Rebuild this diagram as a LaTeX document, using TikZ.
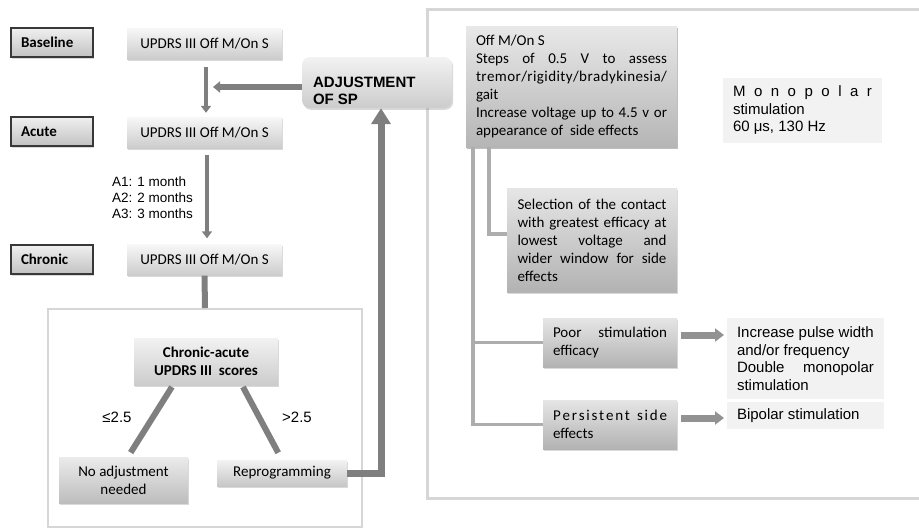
\documentclass[tikz,border=0pt]{standalone}
\usepackage{fontspec}
\setmainfont{Carlito}
\newfontfamily\arialf{Liberation Sans}
\usetikzlibrary{arrows.meta,shadows}
\definecolor{ag}{HTML}{7F7F7F}
\definecolor{lg}{HTML}{ADADAD}
\definecolor{fr}{HTML}{D6D6D6}
\newcommand\fA{\fontsize{15}{18}\selectfont}
\newcommand\fC{\arialf\fontsize{15}{17.5}\selectfont}
\newcommand\fD{\arialf\fontsize{13.5}{16}\selectfont}
\newcommand\fE{\arialf\bfseries\fontsize{15}{17}\selectfont}
\newcommand\ns{\spaceskip=0pt\xspaceskip=0pt\relax}
\newcommand\jl[2]{\makebox[#1][s]{\spaceskip=0.22em plus 1fil\relax #2}}
\tikzset{
  sh/.style={drop shadow={shadow xshift=1.2pt,shadow yshift=-1.8pt,opacity=0.3,fill=black!50}},
  gb/.style 2 args={top color=#1,bottom color=#2,draw=none,sh,inner sep=0pt},
  lab/.style={gb={black!6}{black!24},draw=black!78,line width=1.5pt,minimum width=82pt,minimum height=29pt,text width=62pt,align=left,font=\fA\bfseries},
  updrs/.style={gb={black!3}{black!20},minimum width=155pt,minimum height=31pt,font=\fA},
  rbox/.style={gb={black!10}{black!30},align=left,font=\fA},
  lbox/.style={fill=black!5,draw=none,inner sep=0pt,align=left,font=\fC},
  varr/.style={draw=ag,line width=4.5pt,-{Triangle[width=10pt,length=7pt]}},
  harr/.style={draw=ag,line width=6pt,-{Triangle[width=11pt,length=7pt]}},
  uparr/.style={draw=ag,line width=7pt,-{Triangle[width=19pt,length=16pt]}},
  tl/.style={draw=ag,line width=6pt},
  rline/.style={draw=lg,line width=3.5pt},
  barr/.style={draw=ag!85,line width=7pt,-{Triangle[width=13pt,length=9pt]}},
  frline/.style={draw=fr,line width=3pt}
}
\begin{document}
\begin{tikzpicture}[x=1pt,y=-1pt]
\useasboundingbox (0,0) rectangle (919,528);

% right frame
\draw[frline] (921,9) -- (427,9) -- (427,498) -- (921,498);

% left column
\node[lab] (bl) at (52,42.5) {Baseline};
\node[lab] (ac) at (52,131.5) {Acute};
\node[lab] (ch) at (52,259.5) {Chronic};
\node[updrs] (u1) at (204.5,43.5) {UPDRS III Off M/On S};
\node[updrs] (u2) at (204.5,132.5) {UPDRS III Off M/On S};
\node[updrs] (u3) at (204.5,260) {UPDRS III Off M/On S};

\draw[varr,shorten <=8pt,shorten >=4pt] ([xshift=1.5pt]u1.south) -- ([xshift=1.5pt]u2.north);
\draw[varr,shorten <=7pt,shorten >=6pt] ([xshift=2.5pt]u2.south) -- ([xshift=2.5pt]u3.north);
\node[font=\fD,align=left,anchor=west,inner sep=0pt] (del) at (112,198) {\ns A1: 1 month\\A2: 2 months\\A3: 3 months};

% adjustment box
\node[gb={black!5}{black!20},rounded corners=8pt,minimum width=150pt,minimum height=51pt] (adj) at (377,82.5) {};
\node[font=\fE,align=left,anchor=west,inner sep=0pt] (adjt) at ([xshift=11pt,yshift=-8pt]adj.west) {\ns ADJUSTMENT\\OF SP};
\coordinate (m1) at (206,87);
\draw[harr,shorten >=7pt] (adj.west |- m1) -- (m1);

% bottom-left frame
\node[draw=fr,line width=2pt,minimum width=314pt,minimum height=218pt,inner sep=0pt] (fl) at (205,418) {};
\draw[tl] (u3.south) -- (fl.north);

\node[gb={black!5}{black!20},minimum width=144pt,minimum height=47pt,align=center,font=\fA\bfseries] (ca) at (206,361.5) {\ns Chronic-acute\\UPDRS III\ \ scores};
\node[gb={black!8}{black!26},minimum width=129pt,minimum height=46pt,align=center,font=\fA] (na) at (123.5,480) {\ns No adjustment\\needed};
\node[gb={black!5}{black!22},minimum width=130pt,minimum height=26pt,font=\fA] (rep) at (282,473) {Reprogramming};

\draw[tl,shorten <=2pt,shorten >=5pt] ([xshift=-33pt]ca.south) -- ([xshift=4.5pt]na.north);
\draw[tl,shorten <=2pt,shorten >=8pt] ([xshift=36pt]ca.south) -- (rep.north);
\node[font=\fC] (le) at (117,417) {≤2.5};
\node[font=\fC] (gt) at (297,417) {>2.5};

\coordinate (rc) at (381,473);
\draw[uparr,line join=miter] (rep.east |- rc) -- (rc) -- (rc |- adj.south);

% right part
\node[rbox,gb={black!9}{black!29},minimum width=211pt,minimum height=121pt,text width=191pt] (T) at (571.5,86.5) {\ns Off M/On S\\
\jl{191pt}{Steps of 0.5 V to assess}\\
\makebox[191pt][s]{t\hfil r\hfil e\hfil m\hfil o\hfil r\hfil /\hfil r\hfil i\hfil g\hfil i\hfil d\hfil i\hfil t\hfil y\hfil /\hfil b\hfil r\hfil a\hfil d\hfil y\hfil k\hfil i\hfil n\hfil e\hfil s\hfil i\hfil a\hfil /}\\
gait\\
\makebox[191pt][s]{\spaceskip=1.5pt plus 10pt\relax Increase voltage up to 4.5 v or}\\
appearance of\ \ side effects};

\node[lbox,minimum width=159pt,minimum height=65pt,text width=139pt] (M) at (802.5,110.5) {\ns\makebox[139pt][s]{M\hfill o\hfill n\hfill o\hfill p\hfill o\hfill l\hfill a\hfill r}\\stimulation\\60 μs, 130 Hz};

\node[rbox,minimum width=170pt,minimum height=104pt,text width=149pt] (S) at (592,240) {\ns\jl{149pt}{Selection of the contact}\\
\jl{149pt}{with greatest efficacy at}\\
\jl{149pt}{lowest voltage and}\\
\jl{149pt}{wider window for side}\\
effects};

\node[rbox,minimum width=134pt,minimum height=49pt,text width=114pt] (P) at (610,342.5) {\ns\jl{114pt}{Poor stimulation}\\efficacy};
\node[rbox,minimum width=134pt,minimum height=49pt,text width=114pt] (Q) at (610,424.5) {\ns\makebox[114pt][s]{P\hfill e\hfill r\hfill s\hfill i\hfill s\hfill t\hfill e\hfill n\hfill t\hfill\hfill\hfill\hfill s\hfill i\hfill d\hfill e}\\effects};

\node[lbox,minimum width=157pt,minimum height=81pt,text width=137pt] (I) at (805.5,358.5) {\ns\mbox{Increase pulse width}\\and/or frequency\\\makebox[137pt][s]{\spaceskip=0.28em plus 1fil\relax Double monopolar}\\stimulation};
\node[lbox,minimum width=157pt,minimum height=27pt,text width=137pt] (B) at (805.5,415.5) {\ns Bipolar stimulation};

\coordinate (k1) at (489,234);
\draw[rline] (T.south -| k1) -- (k1) -- (k1 -| S.west);
\coordinate (k2) at (473,342.5);
\coordinate (k3) at (473,424.5);
\draw[rline] (T.south -| k3) -- (k3) -- (Q.west);
\draw[rline] (k2) -- (P.west);

\coordinate (pa) at (724,335);
\coordinate (qa) at (724,418);
\draw[barr,shorten <=4pt] (P.east |- pa) -- (pa);
\draw[barr,shorten <=4pt] (Q.east |- qa) -- (qa);
\end{tikzpicture}
\end{document}
